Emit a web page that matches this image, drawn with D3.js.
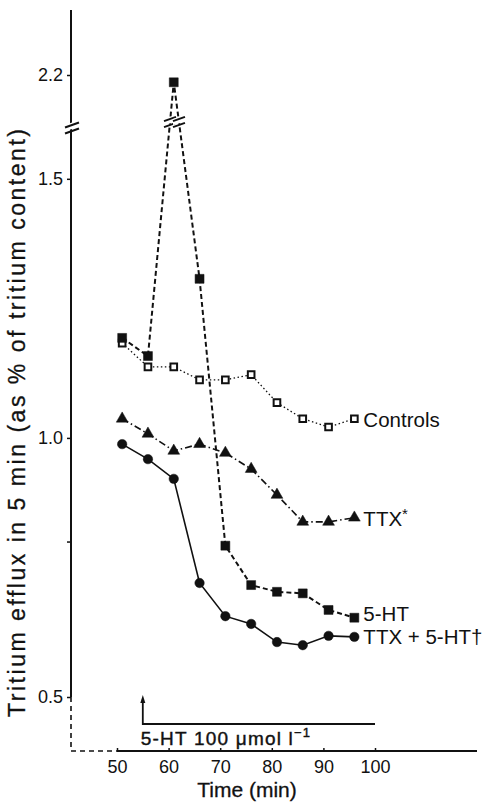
<!DOCTYPE html>
<html>
<head>
<meta charset="utf-8">
<script src="https://cdn.jsdelivr.net/npm/d3@7"></script>
<style>
  body { margin: 0; background: #fff; }
  svg { font-family: "Liberation Sans", Arial, Helvetica, sans-serif; }
</style>
</head>
<body>
<div id="chart"></div>
<script>
// sample times (min)
const times = [51, 56, 61, 66, 71, 76, 81, 86, 91, 96];

// tritium efflux values
const controls = [1.183, 1.137, 1.137, 1.112, 1.112, 1.122, 1.068, 1.037, 1.021, 1.037];
const ttx      = [1.037, 1.008, 0.975, 0.988, 0.971, 0.940, 0.890, 0.838, 0.838, 0.846];
const fiveHT   = [1.193, 1.158, 2.186, 1.307, 0.792, 0.716, 0.703, 0.700, 0.668, 0.653];
const ttx5HT   = [0.988, 0.959, 0.921, 0.720, 0.656, 0.641, 0.606, 0.600, 0.618, 0.616];

const xTicks = [50, 60, 70, 80, 90, 100];
const yTicks = [0.5, 0.8, 1.0, 1.5, 2.2];
const yTickLabels = ['0.5', '', '1.0', '1.5', '2.2'];

// 5-HT application bar: from 55 to 100 min
const drugStart = 55;
const drugEnd = 100;

const width = 487, height = 804;
const axisX = 71;      // left axis position
const axisY = 751;     // bottom axis position
const ink = '#111';

const svg = d3.select('#chart').append('svg')
    .attr('width', width)
    .attr('height', height);

const xScale = d3.scaleLinear()
    .domain([50, 100])
    .range([117, 375]);

// broken axis: 0.5..1.6 below the break, 2.1..2.325 above it
const yScale = d3.scaleLinear()
    .domain([0.5, 1.6, 2.1, 2.325])
    .range([697, 127, 127, 10]);

// y axis
const yAxis = svg.append('g')
    .attr('transform', `translate(${axisX},0)`)
    .call(d3.axisLeft(yScale)
        .tickValues(yTicks)
        .tickSize(4)
        .tickPadding(4)
        .tickFormat((d, i) => yTickLabels[i]));
yAxis.select('.domain').remove();
yAxis.selectAll('line').attr('stroke', ink).attr('stroke-width', 1.5);
yAxis.selectAll('text')
    .attr('fill', ink)
    .style('font-size', '18px');

svg.append('line')
    .attr('x1', axisX).attr('x2', axisX)
    .attr('y1', 10).attr('y2', yScale(0.5))
    .attr('stroke', ink).attr('stroke-width', 2);

// dashed axis continuation below 0.5 and left of 50
svg.append('path')
    .attr('d', `M${axisX},${yScale(0.5)} V${axisY} H${xScale(50)}`)
    .attr('fill', 'none')
    .attr('stroke', ink)
    .attr('stroke-width', 1.6)
    .attr('stroke-dasharray', '5,4');

// x axis
const xAxis = svg.append('g')
    .attr('transform', `translate(0,${axisY})`)
    .call(d3.axisBottom(xScale)
        .tickValues(xTicks)
        .tickSize(-3)
        .tickPadding(9));
xAxis.select('.domain').remove();
xAxis.selectAll('line').attr('stroke', ink).attr('stroke-width', 1.5);
xAxis.selectAll('text')
    .attr('fill', ink)
    .style('font-size', '18px');

svg.append('line')
    .attr('x1', xScale(50)).attr('x2', 477)
    .attr('y1', axisY).attr('y2', axisY)
    .attr('stroke', ink).attr('stroke-width', 2);

// axis titles
svg.append('text')
    .attr('x', xScale(75) + 1)
    .attr('y', 797)
    .attr('text-anchor', 'middle')
    .attr('fill', ink)
    .attr('stroke', ink)
    .attr('stroke-width', 0.3)
    .style('font-size', '21px')
    .text('Time (min)');

svg.append('text')
    .attr('transform', `translate(25,423) rotate(-90)`)
    .attr('text-anchor', 'middle')
    .attr('fill', ink)
    .attr('stroke', ink)
    .attr('stroke-width', 0.3)
    .attr('textLength', 588)
    .attr('lengthAdjust', 'spacing')
    .style('font-size', '23px')
    .text('Tritium efflux in 5 min (as % of tritium content)');

// break marks on the y axis
function breakMark(cx, cy, w) {
    const g = svg.append('g').attr('transform', `translate(${cx},${cy})`);
    g.append('polygon')
        .attr('points', `${-w},${-1} ${w},${-w * 0.7 - 1} ${w},${-w * 0.7 + 6} ${-w},${5}`)
        .attr('transform', 'translate(0,-2)')
        .attr('fill', '#fff');
    [-3, 3].forEach(off => {
        g.append('line')
            .attr('x1', -w).attr('y1', off + w * 0.35)
            .attr('x2', w).attr('y2', off - w * 0.35)
            .attr('stroke', ink).attr('stroke-width', 2);
    });
}
breakMark(axisX + 1, 128, 7);

// series
const series = [
    {name: 'Controls', values: controls, symbol: d3.symbolSquare, size: 44, fill: '#fff',
     dash: '1.5,2.5', lineWidth: 1.3, labelDy: 8},
    {name: 'TTX', sup: '*', values: ttx, symbol: d3.symbolTriangle, size: 60, fill: ink,
     dash: '7,3,1.5,3', lineWidth: 1.6, labelDy: 8},
    {name: '5-HT', values: fiveHT, symbol: d3.symbolSquare, size: 80, fill: ink,
     dash: '5,3', lineWidth: 2, labelDy: 3},
    {name: 'TTX + 5-HT†', values: ttx5HT, symbol: d3.symbolCircle, size: 70, fill: ink,
     dash: null, lineWidth: 1.6, labelDy: 7}
];

const line = d3.line()
    .x(d => xScale(d.t))
    .y(d => yScale(d.v));

series.forEach(s => {
    const pts = times.map((t, i) => ({t: t, v: s.values[i]}));

    svg.append('path')
        .datum(pts)
        .attr('fill', 'none')
        .attr('stroke', ink)
        .attr('stroke-width', s.lineWidth)
        .attr('stroke-dasharray', s.dash)
        .attr('d', line);

    svg.selectAll(null)
        .data(pts)
        .enter()
        .append('path')
        .attr('transform', d => `translate(${xScale(d.t)},${yScale(d.v)})`)
        .attr('d', d3.symbol().type(s.symbol).size(s.size))
        .attr('fill', s.fill)
        .attr('stroke', ink)
        .attr('stroke-width', s.fill === '#fff' ? 2 : 0.5);

    const last = pts[pts.length - 1];
    const label = svg.append('text')
        .attr('x', xScale(last.t) + 9)
        .attr('y', yScale(last.v) + s.labelDy)
        .attr('fill', ink)
        .style('font-size', '20.5px')
        .text(s.name);
    if (s.sup) {
        label.append('tspan')
            .attr('dy', -7)
            .style('font-size', '15px')
            .text(s.sup);
    }
});

// break marks on the 5-HT peak segments
const breakY = 122;
[[1, 2], [2, 3]].forEach(([a, b]) => {
    const x1 = xScale(times[a]), y1 = yScale(fiveHT[a]);
    const x2 = xScale(times[b]), y2 = yScale(fiveHT[b]);
    const f = (breakY - y1) / (y2 - y1);
    breakMark(x1 + f * (x2 - x1), breakY, 6);
});

// 5-HT application marker
const barY = 724;
svg.append('path')
    .attr('d', `M${xScale(drugStart)},699 V${barY} H${xScale(drugEnd)}`)
    .attr('fill', 'none')
    .attr('stroke', ink)
    .attr('stroke-width', 1.8);
svg.append('path')
    .attr('d', `M${xScale(drugStart) - 2.5},703 L${xScale(drugStart)},695 L${xScale(drugStart) + 2.5},703 Z`)
    .attr('fill', ink);

const drugLabel = svg.append('text')
    .attr('x', xScale(drugStart) - 2)
    .attr('y', 745)
    .attr('fill', ink)
    .attr('stroke', ink)
    .attr('stroke-width', 0.4)
    .style('font-size', '19px')
    .style('letter-spacing', '1.2px')
    .text('5-HT 100 μmol l');
drugLabel.append('tspan')
    .attr('dy', -8)
    .style('font-size', '13px')
    .text('−1');
</script>
</body>
</html>
